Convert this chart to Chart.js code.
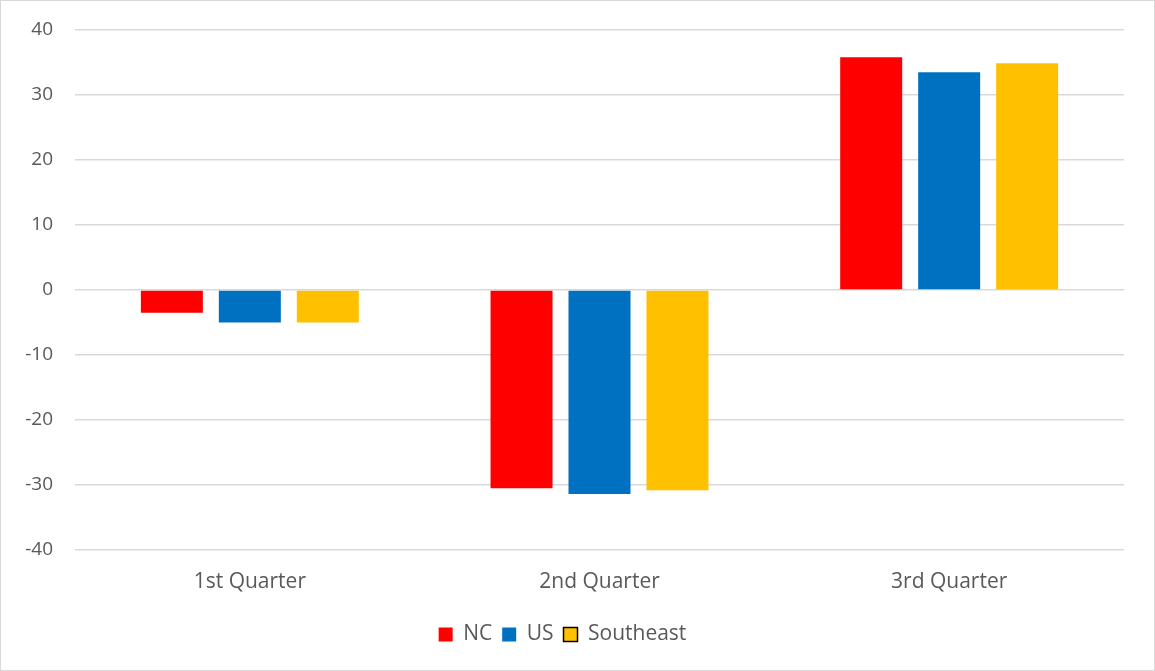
<!DOCTYPE html>
<html>
<head>
<meta charset="utf-8">
<script src="https://cdn.jsdelivr.net/npm/chart.js@4"></script>
<style>
  html, body { margin: 0; padding: 0; background: #fff; }
  #wrap { position: relative; width: 1153px; height: 669px; border: 1px solid #d9d9d9; }
</style>
</head>
<body>
<div id="wrap"><canvas id="chart"></canvas></div>
<script>
// Chart data
const quarters = ['1st Quarter', '2nd Quarter', '3rd Quarter'];
const ncValues = [-3.5, -30.5, 35.8];
const usValues = [-5.0, -31.4, 33.5];
const southeastValues = [-5.0, -30.8, 34.9];
const seriesNames = ['NC', 'US', 'Southeast'];
const seriesColors = ['#FF0000', '#0070C0', '#FFC000'];

const textColor = '#595959';
const gridColor = '#d9d9d9';

Chart.defaults.font.family = "'Open Sans', 'Liberation Sans', sans-serif";
Chart.defaults.color = textColor;

const ctx = document.getElementById('chart').getContext('2d');

new Chart(ctx, {
    type: 'bar',
    data: {
        labels: quarters,
        datasets: [ncValues, usValues, southeastValues].map((vals, i) => ({
            label: seriesNames[i],
            data: vals,
            backgroundColor: seriesColors[i],
            borderWidth: 0,
            categoryPercentage: 0.669,
            barPercentage: 0.795
        }))
    },
    options: {
        responsive: true,
        maintainAspectRatio: false,
        animation: false,
        layout: {
            padding: { left: 0, right: 30, top: 29, bottom: 15 }
        },
        scales: {
            x: {
                grid: { display: false, drawTicks: false },
                border: { display: false },
                ticks: { font: { size: 21 }, color: textColor, padding: 19 },
                afterFit: scale => { scale.height = 64; }
            },
            y: {
                min: -40,
                max: 40,
                grid: { color: gridColor, lineWidth: 1.5, drawTicks: false },
                border: { display: false },
                ticks: { stepSize: 10, font: { size: 19 }, color: textColor, padding: 22 },
                afterFit: scale => {
                    scale.width = 74;
                    scale.paddingTop = 0;
                    scale.paddingBottom = 0;
                }
            }
        },
        plugins: {
            tooltip: { enabled: false },
            legend: {
                position: 'bottom',
                labels: {
                    font: { size: 21 },
                    color: textColor,
                    boxWidth: 14,
                    boxHeight: 14,
                    padding: 10,
                    generateLabels: chart => {
                        const items = Chart.defaults.plugins.legend.labels.generateLabels(chart);
                        items.forEach((item, i) => {
                            item.fillStyle = seriesColors[i];
                            item.strokeStyle = i === 2 ? '#000000' : seriesColors[i];
                            item.lineWidth = i === 2 ? 1.5 : 0;
                        });
                        return items;
                    }
                }
            }
        }
    }
});
</script>
</body>
</html>
